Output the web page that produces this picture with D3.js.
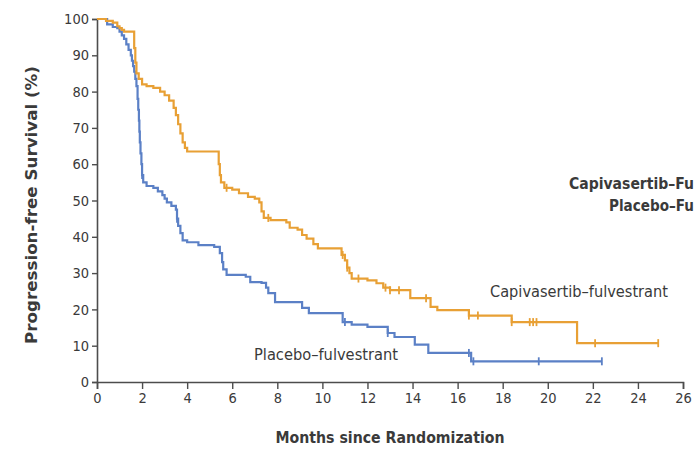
<!DOCTYPE html>
<html>
<head>
<meta charset="utf-8">
<script src="https://cdn.jsdelivr.net/npm/d3@7"></script>
<style>
  html, body { margin: 0; padding: 0; background: #fff; }
  svg { display: block; }
  text { font-family: "Liberation Sans Narrow", "DejaVu Sans Condensed", "Roboto Condensed", Lato, sans-serif; fill: #3a3a3a; }
</style>
</head>
<body>
<svg id="chart" width="695" height="459"></svg>
<script>
// ---- Data ----
const xTicks = [0, 2, 4, 6, 8, 10, 12, 14, 16, 18, 20, 22, 24, 26];
const yTicks = [0, 10, 20, 30, 40, 50, 60, 70, 80, 90, 100];

// Capivasertib–fulvestrant: step times (months) and survival after each step (%)
const capTimes = [0, 0.4, 0.7, 0.9, 1.0, 1.1, 1.2, 1.65, 1.7, 1.75, 1.85, 2.0, 2.2, 2.5, 2.8, 3.0, 3.2, 3.4, 3.5, 3.6, 3.7, 3.8, 3.9, 4.0,
  5.4, 5.45, 5.5, 5.65, 6.0, 6.3, 6.7, 7.0, 7.2, 7.3, 7.4, 7.7, 8.4, 8.55, 8.9, 9.1, 9.3, 9.6, 9.8, 10.85, 11.0, 11.1, 11.2, 11.3,
  12.0, 12.4, 12.7, 13.0, 13.9, 14.8, 15.1, 16.5, 18.4, 21.3];
const capSurv = [100, 99.5, 99, 98, 97.5, 97, 96.5, 92, 88, 85, 83.5, 82, 81.5, 81, 80, 79, 77.5, 75.5, 73.5, 71, 68.5, 66, 64.5, 63.5,
  60, 57, 55, 53.5, 53, 52, 51, 50.5, 49.5, 47, 45.2, 44.6, 44, 42.5, 42, 40.5, 39.5, 38, 36.8, 35, 33.5, 31.5, 30, 28.5,
  28, 27.2, 26, 25.3, 23.1, 20.7, 19.8, 18.3, 16.5, 10.7];
const capEnd = 24.9;
const capCensor = [5.75, 7.6, 10.9, 11.1, 11.6, 12.8, 13.0, 13.4, 14.6, 16.5, 16.9, 18.4, 19.2, 19.35, 19.5, 22.1, 24.9];

// Placebo–fulvestrant
const plaTimes = [0, 0.45, 0.7, 0.9, 1.0, 1.1, 1.2, 1.3, 1.4, 1.5, 1.55, 1.6, 1.65, 1.7, 1.75, 1.8, 1.83, 1.86, 1.88, 1.9, 1.93, 1.97, 2.0, 2.05,
  2.2, 2.5, 2.7, 2.9, 3.0, 3.1, 3.3, 3.5, 3.55, 3.6, 3.7, 3.8, 4.0, 4.5, 5.2, 5.45, 5.55, 5.6, 5.75, 6.6, 6.8, 7.3, 7.5, 7.6, 7.9,
  9.1, 9.4, 10.9, 11.3, 12.0, 12.9, 13.2, 14.1, 14.7, 16.6];
const plaSurv = [100, 98.5, 97.8, 97.5, 96.5, 95.5, 94.5, 93, 91.5, 90, 88.5, 87, 85.5, 83.5, 81.5, 78, 75, 72, 69, 66, 63, 60, 57, 55,
  54, 53.5, 52.5, 51.5, 50.5, 49.5, 48.5, 47.5, 45, 43, 41, 39, 38.5, 37.7, 37.2, 35.5, 33, 31, 29.5, 29, 27.5, 27.3, 26, 24.5, 22,
  20.4, 19, 16.5, 15.8, 15.2, 13.5, 12.4, 10.3, 8, 5.7];
const plaEnd = 22.4;
const plaCensor = [2.0, 3.55, 11.0, 12.9, 16.5, 16.7, 19.6, 22.4];

// Legend rows as visible in the reference (cut at the right edge there)
const legendRows = ["Capivasertib–Fu", "Placebo–Fu"];

// ---- Layout ----
const svg = d3.select("#chart");
const x = d3.scaleLinear().domain([0, 26]).range([97, 683]);
const y = d3.scaleLinear().domain([0, 100]).range([382, 19]);
const axisColor = "#4d4d4d";
const orange = "#e8a035";
const blue = "#5b80c6";

// axes
const xAxis = svg.append("g").attr("transform", `translate(0,${y(0)})`)
  .call(d3.axisBottom(x).tickValues(xTicks).tickSize(7).tickPadding(4).tickFormat(d3.format("d")));
const yAxis = svg.append("g").attr("transform", `translate(${x(0)},0)`)
  .call(d3.axisLeft(y).tickValues(yTicks).tickSize(5).tickPadding(3).tickFormat(d3.format("d")));
[xAxis, yAxis].forEach(g => {
  g.select(".domain").attr("stroke", axisColor).attr("stroke-width", 1.6);
  g.selectAll(".tick line").attr("stroke", axisColor).attr("stroke-width", 1.4);
  g.selectAll(".tick text").attr("font-size", 14.5).attr("fill", "#3a3a3a")
    .style("font-family", "'Liberation Sans Narrow', 'DejaVu Sans Condensed', Lato, sans-serif");
});

function stepData(times, surv, end) {
  const pts = times.map((t, i) => ({ t, s: surv[i] }));
  pts.push({ t: end, s: surv[surv.length - 1] });
  return pts;
}
function survAt(times, surv, t) {
  let v = surv[0];
  for (let i = 0; i < times.length; i++) { if (times[i] <= t) v = surv[i]; }
  return v;
}
const line = d3.line().x(d => x(d.t)).y(d => y(d.s)).curve(d3.curveStepAfter);

const series = [
  { times: plaTimes, surv: plaSurv, end: plaEnd, censor: plaCensor, color: blue },
  { times: capTimes, surv: capSurv, end: capEnd, censor: capCensor, color: orange }
];
series.forEach(sr => {
  svg.append("path").datum(stepData(sr.times, sr.surv, sr.end))
    .attr("d", line).attr("fill", "none").attr("stroke", sr.color).attr("stroke-width", 2.2);
  svg.append("g").selectAll("line").data(sr.censor).join("line")
    .attr("x1", d => x(d)).attr("x2", d => x(d))
    .attr("y1", d => y(survAt(sr.times, sr.surv, d)) - 4)
    .attr("y2", d => y(survAt(sr.times, sr.surv, d)) + 4)
    .attr("stroke", sr.color).attr("stroke-width", 1.8);
});

// axis titles
svg.append("text").attr("transform", "translate(37,205) rotate(-90)")
  .attr("text-anchor", "middle").attr("font-size", 15.5).attr("font-weight", "bold")
  .attr("textLength", 278).attr("lengthAdjust", "spacingAndGlyphs")
  .text("Progression-free Survival (%)");
svg.append("text").attr("x", 390).attr("y", 443)
  .attr("text-anchor", "middle").attr("font-size", 15.5).attr("font-weight", "bold")
  .attr("textLength", 229).attr("lengthAdjust", "spacingAndGlyphs")
  .text("Months since Randomization");

// curve labels
svg.append("text").attr("x", 490).attr("y", 297).attr("font-size", 15)
  .attr("textLength", 178).attr("lengthAdjust", "spacingAndGlyphs")
  .text("Capivasertib–fulvestrant");
svg.append("text").attr("x", 254).attr("y", 360).attr("font-size", 15)
  .attr("textLength", 144).attr("lengthAdjust", "spacingAndGlyphs")
  .text("Placebo–fulvestrant");

// legend block, right-aligned at the edge as in the reference
const legendWidths = [125, 85];
legendRows.forEach((t, i) => {
  svg.append("text").attr("x", 694).attr("y", 189 + i * 22)
    .attr("text-anchor", "end").attr("font-size", 15).attr("font-weight", "bold")
    .attr("textLength", legendWidths[i]).attr("lengthAdjust", "spacingAndGlyphs")
    .text(t);
});
</script>
</body>
</html>
